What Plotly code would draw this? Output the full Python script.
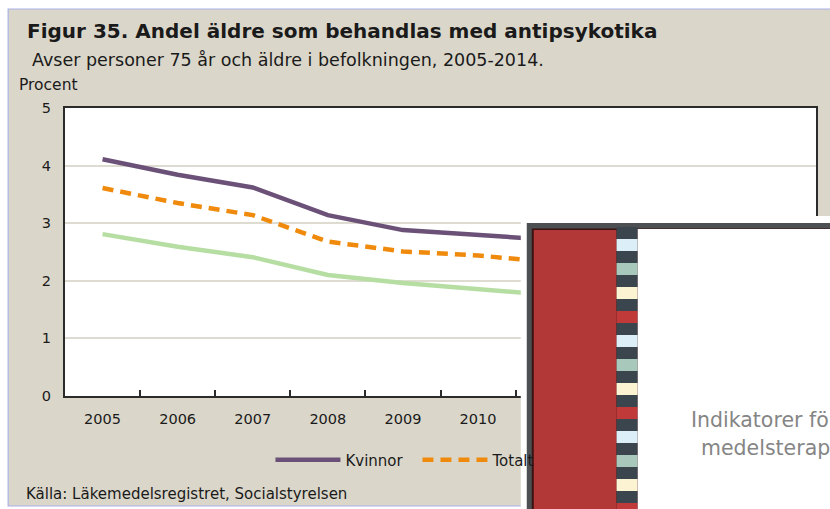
import plotly.graph_objects as go

# ---- data ----
years = ["2005", "2006", "2007", "2008", "2009", "2010", "2011", "2012", "2013", "2014"]
kvinnor = [4.11, 3.84, 3.62, 3.14, 2.88, 2.80, 2.71, None, None, None]
totalt = [3.61, 3.35, 3.14, 2.68, 2.51, 2.44, 2.32, None, None, None]
man = [2.81, 2.59, 2.41, 2.10, 1.96, 1.85, 1.75, None, None, None]
y_ticks = [0, 1, 2, 3, 4, 5]

title = "Figur 35. Andel äldre som behandlas med antipsykotika"
subtitle = "Avser personer 75 år och äldre i befolkningen, 2005-2014."
ylabel = "Procent"
source = "Källa: Läkemedelsregistret, Socialstyrelsen"

# ---- geometry (pixels) ----
FW, FH = 830, 509
L, R, T, B = 65, 818, 108, 396
W, H = R - L, B - T


def px(x):
    return (x - L) / W


def py(y):
    return (B - y) / H


FONT = "DejaVu Sans"
BEIGE = "#dad7ca"

fig = go.Figure()
fig.add_trace(go.Scatter(x=years, y=kvinnor, name="Kvinnor", mode="lines",
                         line=dict(color="#6b5178", width=4.5)))
fig.add_trace(go.Scatter(x=years, y=totalt, name="Totalt", mode="lines",
                         line=dict(color="#ef8a0c", width=4.5, dash="11px,7px")))
# third legend entry lies under the overlaid picture in the reference
fig.add_trace(go.Scatter(x=years, y=man, name="Män", mode="lines", showlegend=False,
                         line=dict(color="#b6dea3", width=4.5)))

shapes = []
# outer white strips + frame of beige panel
shapes.append(dict(type="rect", xref="paper", yref="paper", x0=px(-5), x1=px(FW + 5), y0=py(-5), y1=py(9),
                   fillcolor="white", line=dict(width=0), layer="above"))
shapes.append(dict(type="rect", xref="paper", yref="paper", x0=px(-5), x1=px(8), y0=py(FH + 5), y1=py(-5),
                   fillcolor="white", line=dict(width=0), layer="above"))
shapes.append(dict(type="rect", xref="paper", yref="paper", x0=px(-5), x1=px(FW + 5), y0=py(FH + 5), y1=py(506),
                   fillcolor="white", line=dict(width=0), layer="above"))
shapes.append(dict(type="rect", xref="paper", yref="paper", x0=px(8), x1=px(FW + 5), y0=py(506), y1=py(9),
                   fillcolor="rgba(0,0,0,0)", line=dict(width=1.2, color="#aab0e6"), layer="above"))

# overlay picture (cover of another report) in bottom right
shapes.append(dict(type="rect", xref="paper", yref="paper", x0=px(522), x1=px(FW + 5), y0=py(FH + 5), y1=py(216),
                   fillcolor="white", line=dict(width=0), layer="above"))
shapes.append(dict(type="rect", xref="paper", yref="paper", x0=px(528), x1=px(FW + 5), y0=py(FH + 5), y1=py(223),
                   fillcolor="#4d5052", line=dict(width=0), layer="above"))
shapes.append(dict(type="rect", xref="paper", yref="paper", x0=px(533), x1=px(FW + 5), y0=py(FH + 5), y1=py(228.5),
                   fillcolor="#3a1212", line=dict(width=0), layer="above"))
shapes.append(dict(type="rect", xref="paper", yref="paper", x0=px(535), x1=px(618), y0=py(FH + 5), y1=py(230),
                   fillcolor="#b23737", line=dict(width=0), layer="above"))
shapes.append(dict(type="rect", xref="paper", yref="paper", x0=px(639), x1=px(FW + 5), y0=py(FH + 5), y1=py(229),
                   fillcolor="white", line=dict(width=0), layer="above"))
stripe_cols = ["#3b454d", "#dceef7", "#3b454d", "#a8c8bb", "#3b454d", "#fbf3d2", "#3b454d", "#c03a3a"]
y0s = 227
k = 0
while y0s < FH:
    shapes.append(dict(type="rect", xref="paper", yref="paper", x0=px(618), x1=px(639),
                       y0=py(min(y0s + 12, FH + 5)), y1=py(y0s),
                       fillcolor=stripe_cols[k % 8], line=dict(width=0), layer="above"))
    y0s += 12
    k += 1

annotations = [
    dict(text="<b>" + title + "</b>", x=px(25), y=py(31), xref="paper", yref="paper",
         xanchor="left", yanchor="middle", showarrow=False, font=dict(family=FONT, size=20, color="#1a1a1a")),
    dict(text=subtitle, x=px(30), y=py(60), xref="paper", yref="paper",
         xanchor="left", yanchor="middle", showarrow=False, font=dict(family=FONT, size=17.5, color="#1a1a1a")),
    dict(text=ylabel, x=px(17), y=py(85), xref="paper", yref="paper",
         xanchor="left", yanchor="middle", showarrow=False, font=dict(family=FONT, size=15.5, color="#1a1a1a")),
    dict(text=source, x=px(24), y=py(494), xref="paper", yref="paper",
         xanchor="left", yanchor="middle", showarrow=False, font=dict(family=FONT, size=15, color="#1a1a1a")),
    dict(text="Indikatorer för god läke-", x=px(691), y=py(420), xref="paper", yref="paper",
         xanchor="left", yanchor="middle", showarrow=False, font=dict(family=FONT, size=20.5, color="#858585")),
    dict(text="medelsterapi hos äldre", x=px(701), y=py(448), xref="paper", yref="paper",
         xanchor="left", yanchor="middle", showarrow=False, font=dict(family=FONT, size=20.5, color="#858585")),
]

fig.update_layout(
    width=FW, height=FH,
    margin=dict(l=L, r=FW - R, t=T, b=FH - B, pad=0),
    paper_bgcolor=BEIGE, plot_bgcolor="white",
    font=dict(family=FONT, size=14, color="#1a1a1a"),
    showlegend=True,
    legend=dict(orientation="h", x=px(271), y=py(460), xanchor="left", yanchor="middle",
                bgcolor="rgba(0,0,0,0)", font=dict(family=FONT, size=15, color="#1a1a1a"),
                itemwidth=65, entrywidth=67, entrywidthmode="pixels", tracegroupgap=0),
    shapes=shapes,
    annotations=annotations,
)
fig.update_xaxes(type="category", categoryorder="array", categoryarray=years,
                 range=[-0.5, len(years) - 0.5],
                 showgrid=False, showline=True, mirror=True, linecolor="#2b2b2b", linewidth=2,
                 ticks="inside", tickson="boundaries", ticklen=6, tickwidth=1.5, tickcolor="#2b2b2b",
                 ticklabelstandoff=9, tickfont=dict(family=FONT, size=14.5, color="#1a1a1a"), fixedrange=True)
fig.update_yaxes(range=[0, 5], tickvals=y_ticks, showgrid=True, gridcolor="#dedbd1", gridwidth=1.5,
                 showline=True, mirror=True, linecolor="#2b2b2b", linewidth=2, ticks="",
                 ticklabelstandoff=9, zeroline=False, tickfont=dict(family=FONT, size=14.5, color="#1a1a1a"),
                 fixedrange=True)

fig.write_html("out.html", config={"displayModeBar": False},
               post_script="document.body.style.margin='0px';document.body.style.overflow='hidden';")
